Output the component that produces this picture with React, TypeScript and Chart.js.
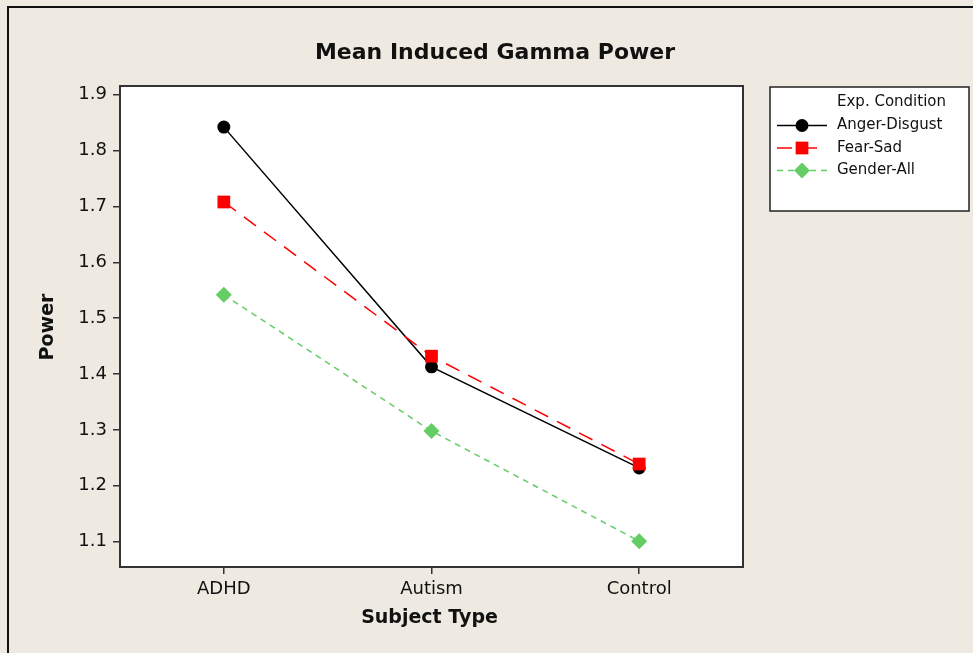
import React, { useEffect, useRef } from 'react';
import { Chart, registerables } from 'chart.js';
Chart.register(...registerables);

const categories = ['ADHD', 'Autism', 'Control'];
const seriesNames = ['Anger-Disgust', 'Fear-Sad', 'Gender-All'];
const angerDisgust = [1.842, 1.413, 1.232];
const fearSad = [1.708, 1.432, 1.239];
const genderAll = [1.542, 1.298, 1.101];
const yTickValues = [1.1, 1.2, 1.3, 1.4, 1.5, 1.6, 1.7, 1.8, 1.9];
const titleText = 'Mean Induced Gamma Power';
const xTitleText = 'Subject Type';
const yTitleText = 'Power';
const legendTitleText = 'Exp. Condition';

const BG = '#EEEAE1';
const FONT = '"DejaVu Sans", Verdana, sans-serif';
const TEXT = '#111111';

function drawMarker(ctx: CanvasRenderingContext2D, style: string, x: number, y: number, r: number, color: string) {
  ctx.save();
  ctx.fillStyle = color;
  ctx.beginPath();
  if (style === 'circle') {
    ctx.arc(x, y, r, 0, Math.PI * 2);
  } else if (style === 'rect') {
    const h = r * Math.SQRT1_2;
    ctx.rect(x - h, y - h, 2 * h, 2 * h);
  } else {
    ctx.moveTo(x - r, y);
    ctx.lineTo(x, y - r);
    ctx.lineTo(x + r, y);
    ctx.lineTo(x, y + r);
    ctx.closePath();
  }
  ctx.fill();
  ctx.restore();
}

export default function App() {
  const ref = useRef<HTMLCanvasElement>(null);
  useEffect(() => {
    document.body.style.margin = '0';
    const decor = {
      id: 'decor',
      beforeDraw(chart: any) {
        const { ctx, chartArea: a, width, height } = chart;
        ctx.save();
        ctx.fillStyle = BG;
        ctx.fillRect(0, 0, width, height);
        ctx.fillStyle = '#111';
        ctx.fillRect(7, 6, width, 2);
        ctx.fillRect(7, 6, 2, height);
        ctx.fillStyle = '#fff';
        ctx.fillRect(a.left, a.top, a.right - a.left, a.bottom - a.top);
        ctx.restore();
      },
      afterDraw(chart: any) {
        const { ctx, chartArea: a } = chart;
        ctx.save();
        ctx.strokeStyle = '#333';
        ctx.lineWidth = 2;
        ctx.strokeRect(a.left, a.top, a.right - a.left, a.bottom - a.top);
        ctx.fillStyle = TEXT;
        ctx.textAlign = 'center';
        ctx.textBaseline = 'middle';
        ctx.font = 'bold 22px ' + FONT;
        ctx.fillText(titleText, 495, 53);
        ctx.font = 'bold 19px ' + FONT;
        ctx.fillText(xTitleText, (a.left + a.right) / 2 - 2, 618);
        ctx.save();
        ctx.translate(48, 327);
        ctx.rotate(-Math.PI / 2);
        ctx.fillText(yTitleText, 0, 0);
        ctx.restore();
        const lx = 770, ly = 87, lw = 199, lh = 124;
        ctx.fillStyle = '#fff';
        ctx.fillRect(lx, ly, lw, lh);
        ctx.strokeStyle = '#222';
        ctx.lineWidth = 1.5;
        ctx.strokeRect(lx, ly, lw, lh);
        ctx.fillStyle = TEXT;
        ctx.textAlign = 'left';
        ctx.font = '15px ' + FONT;
        ctx.fillText(legendTitleText, 837, 102);
        chart.data.datasets.forEach((ds: any, i: number) => {
          const y = 125.5 + i * 22.5;
          ctx.save();
          ctx.strokeStyle = ds.borderColor;
          ctx.lineWidth = 1.5;
          ctx.setLineDash(ds.borderDash || []);
          ctx.beginPath();
          ctx.moveTo(777, y);
          ctx.lineTo(827, y);
          ctx.stroke();
          ctx.restore();
          drawMarker(ctx, ds.pointStyle, 802, y, ds.pointRadius, ds.backgroundColor);
          ctx.fillStyle = TEXT;
          ctx.fillText(ds.label, 837, y);
        });
        ctx.restore();
      },
    };

    const chart = new Chart(ref.current as HTMLCanvasElement, {
      type: 'line',
      data: {
        labels: categories,
        datasets: [
          {
            label: seriesNames[0], data: angerDisgust, borderColor: '#000000', backgroundColor: '#000000',
            pointStyle: 'circle', pointRadius: 6.5, pointBorderWidth: 0, borderWidth: 1.5, order: 1,
          },
          {
            label: seriesNames[1], data: fearSad, borderColor: '#FF0000', backgroundColor: '#FF0000',
            pointStyle: 'rect', pointRadius: 9, pointBorderWidth: 0, borderWidth: 1.5, borderDash: [15, 10], order: 0,
          },
          {
            label: seriesNames[2], data: genderAll, borderColor: '#66CC66', backgroundColor: '#66CC66',
            pointStyle: 'rectRot', pointRadius: 8, pointBorderWidth: 0, borderWidth: 1.5, borderDash: [6, 5], order: 2,
          },
        ] as any,
      },
      options: {
        animation: false,
        responsive: false,
        layout: { padding: { top: 86, right: 230, left: 0, bottom: 0 } },
        plugins: { legend: { display: false }, title: { display: false }, tooltip: { enabled: false } },
        scales: {
          x: {
            type: 'category',
            offset: true,
            grid: { offset: false, drawOnChartArea: false, drawTicks: true, tickLength: 7, color: '#333', lineWidth: 1.5 },
            border: { display: false },
            ticks: { color: TEXT, font: { family: FONT, size: 18 }, padding: 5, maxRotation: 0 },
            afterFit: (s: any) => { s.height = 86; },
          },
          y: {
            type: 'linear',
            min: 1.0547,
            max: 1.9156,
            grid: { drawOnChartArea: false, drawTicks: true, tickLength: 7, color: '#333', lineWidth: 1.5 },
            border: { display: false },
            ticks: { color: TEXT, font: { family: FONT, size: 18 }, padding: 6, callback: (v: any) => Number(v).toFixed(1) },
            afterBuildTicks: (s: any) => { s.ticks = yTickValues.map((v) => ({ value: v })); },
            afterFit: (s: any) => { s.width = 120; },
          },
        },
      } as any,
      plugins: [decor],
    });
    return () => chart.destroy();
  }, []);
  return (
    <div style={{ position: 'absolute', left: 0, top: 0, width: 973, height: 653 }}>
      <canvas ref={ref} width={973} height={653} style={{ width: 973, height: 653, display: 'block' }} />
    </div>
  );
}
